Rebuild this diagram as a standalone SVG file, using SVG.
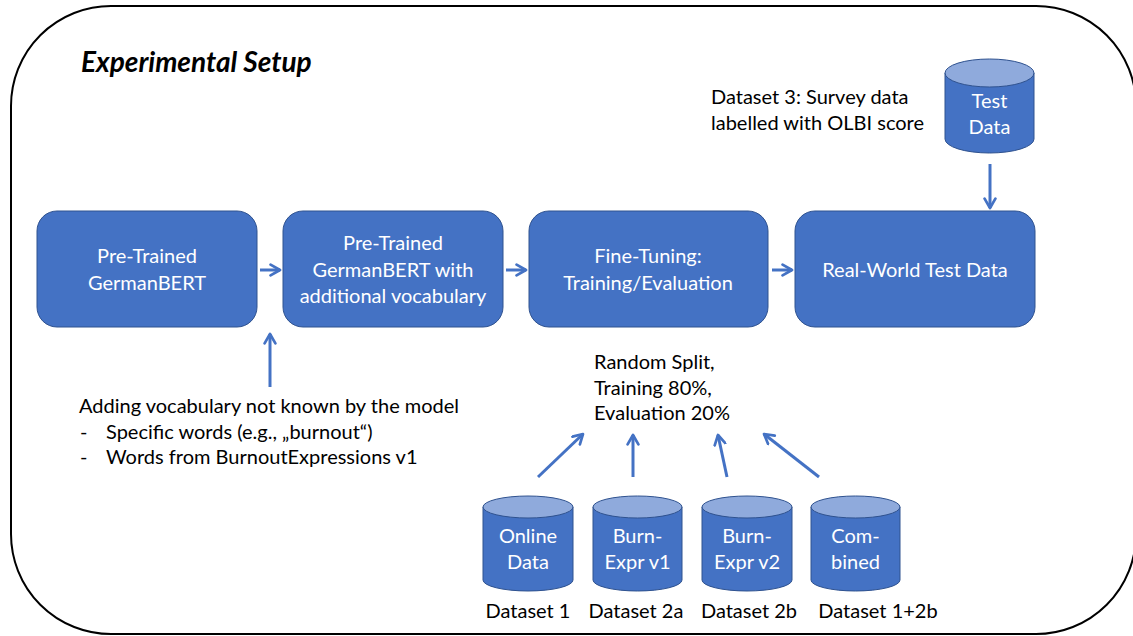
<svg xmlns="http://www.w3.org/2000/svg" width="1133" height="636" viewBox="0 0 1133 636">
<style>
.box{fill:#4472C4;stroke:#2F528F;stroke-width:1}
.cyl{fill:#4472C4;stroke:#2F528F;stroke-width:1}
.cyltop{fill:#8FAADC;stroke:#2F528F;stroke-width:1}
.wt{fill:#fff;font-family:Lato,"Liberation Sans",sans-serif;font-size:20px;text-anchor:middle}
.bt{fill:#000;font-family:Lato,"Liberation Sans",sans-serif;font-size:20px}
.conn{stroke:#4472C4;stroke-width:3;fill:none;marker-end:url(#ah)}
</style>
<defs>
<marker id="ah" viewBox="0 0 10 10" refX="8" refY="5" markerWidth="4.5" markerHeight="4.5" orient="auto" markerUnits="strokeWidth">
<path d="M1,1 L8,5 L1,9" fill="none" stroke="#4472C4" stroke-width="2" stroke-linecap="round" stroke-linejoin="round"/>
</marker>
</defs>
<rect width="1133" height="636" fill="#fff"/>
<rect x="11" y="6" width="1125" height="628" rx="100" ry="100" fill="none" stroke="#000" stroke-width="2"/>
<text x="81" y="72" font-family="Lato,'Liberation Sans',sans-serif" font-size="28" font-weight="bold" font-style="italic">Experimental Setup</text>

<g id="connectors">
<line class="conn" x1="260" y1="270" x2="280" y2="270"/>
<line class="conn" x1="506" y1="270" x2="526" y2="270"/>
<line class="conn" x1="772" y1="270" x2="792" y2="270"/>
<line class="conn" x1="990" y1="164" x2="990" y2="208"/>
<line class="conn" x1="270" y1="387" x2="270" y2="334"/>
<line class="conn" x1="538" y1="477" x2="583" y2="434"/>
<line class="conn" x1="633" y1="477" x2="633" y2="435"/>
<line class="conn" x1="727" y1="477" x2="718" y2="435"/>
<line class="conn" x1="819" y1="477" x2="764" y2="434"/>
</g>

<g id="pretrained">
<rect class="box" x="37" y="211" width="220" height="116" rx="20"/>
<text class="wt" x="147" y="263">Pre-Trained</text>
<text class="wt" x="147" y="290">GermanBERT</text>
</g>
<g id="pretrained-vocab">
<rect class="box" x="283" y="211" width="220" height="116" rx="20"/>
<text class="wt" x="393" y="250">Pre-Trained</text>
<text class="wt" x="393" y="277">GermanBERT with</text>
<text class="wt" x="393" y="303">additional vocabulary</text>
</g>
<g id="finetuning">
<rect class="box" x="529" y="211" width="239" height="116" rx="20"/>
<text class="wt" x="648" y="263">Fine-Tuning:</text>
<text class="wt" x="648" y="290">Training/Evaluation</text>
</g>
<g id="realworld">
<rect class="box" x="795" y="211" width="240" height="116" rx="20"/>
<text class="wt" x="915" y="277">Real-World Test Data</text>
</g>

<g id="testdata">
<path class="cyl" d="M945,73 L945,139 A44.5,14 0 0 0 1034,139 L1034,73 Z"/>
<ellipse class="cyltop" cx="989.5" cy="73" rx="44.5" ry="14"/>
<text class="wt" x="989.5" y="108">Test</text>
<text class="wt" x="989.5" y="134">Data</text>
</g>
<g id="dataset3-label">
<text class="bt" x="711" y="104">Dataset 3: Survey data</text>
<text class="bt" x="711" y="130">labelled with OLBI score</text>
</g>

<g id="vocab-note">
<text class="bt" x="79" y="413">Adding vocabulary not known by the model</text>
<text class="bt" x="80" y="439">-</text>
<text class="bt" x="106" y="439">Specific words (e.g., „burnout“)</text>
<text class="bt" x="80" y="464">-</text>
<text class="bt" x="106" y="464">Words from BurnoutExpressions v1</text>
</g>

<g id="split-note">
<text class="bt" x="594" y="369">Random Split,</text>
<text class="bt" x="594" y="395">Training 80%,</text>
<text class="bt" x="594" y="420">Evaluation 20%</text>
</g>

<g id="online">
<path class="cyl" d="M483,507 L483,580 A45,11 0 0 0 573,580 L573,507 Z"/>
<ellipse class="cyltop" cx="528" cy="507" rx="45" ry="11"/>
<text class="wt" x="528" y="543">Online</text>
<text class="wt" x="528" y="569">Data</text>
<text class="bt" x="528" y="618" text-anchor="middle">Dataset 1</text>
</g>
<g id="burn1">
<path class="cyl" d="M593,507 L593,580 A44.5,11 0 0 0 682,580 L682,507 Z"/>
<ellipse class="cyltop" cx="637.5" cy="507" rx="44.5" ry="11"/>
<text class="wt" x="637.5" y="543">Burn-</text>
<text class="wt" x="637.5" y="569">Expr v1</text>
<text class="bt" x="636" y="618" text-anchor="middle">Dataset 2a</text>
</g>
<g id="burn2">
<path class="cyl" d="M702,507 L702,580 A45,11 0 0 0 792,580 L792,507 Z"/>
<ellipse class="cyltop" cx="747" cy="507" rx="45" ry="11"/>
<text class="wt" x="747" y="543">Burn-</text>
<text class="wt" x="747" y="569">Expr v2</text>
<text class="bt" x="749" y="618" text-anchor="middle">Dataset 2b</text>
</g>
<g id="combined">
<path class="cyl" d="M811,507 L811,580 A44.5,11 0 0 0 900,580 L900,507 Z"/>
<ellipse class="cyltop" cx="855.5" cy="507" rx="44.5" ry="11"/>
<text class="wt" x="855.5" y="543">Com-</text>
<text class="wt" x="855.5" y="569">bined</text>
<text class="bt" x="878" y="618" text-anchor="middle">Dataset 1+2b</text>
</g>
</svg>
